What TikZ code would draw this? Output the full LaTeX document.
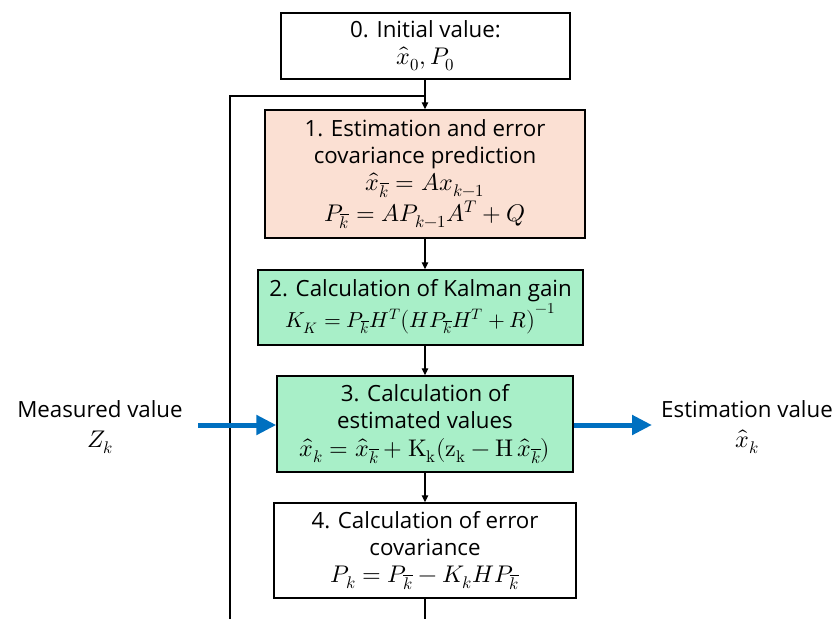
\documentclass[tikz,border=0pt]{standalone}
\usepackage{fontspec}
\usepackage{unicode-math}
\usepackage{graphicx}
\setmainfont{Open Sans}
\setmathfont{Latin Modern Math}[Scale=1.08]
\usetikzlibrary{arrows.meta}
\definecolor{peach}{HTML}{FBE0D3}
\definecolor{mint}{HTML}{A8EFC8}
\definecolor{arrowblue}{HTML}{0070C0}
\tikzset{
  stepbox/.style={draw=black, line width=1.4pt, align=center, inner sep=0pt,
    font=\fontsize{22.3}{27}\selectfont},
  flow/.style={line width=1.3pt, -{Triangle[length=7pt,width=6.5pt]}},
  loopline/.style={line width=1.3pt},
  bluearrow/.style={draw=arrowblue, line width=5pt, -{Triangle[length=20pt,width=19pt]}},
  sidetext/.style={align=center, font=\fontsize{22.3}{30}\selectfont},
}
\begin{document}
\begin{tikzpicture}[x=1pt,y=-1pt]
\useasboundingbox (0,0) rectangle (835,619);
\node[stepbox, minimum width=289pt, minimum height=66pt] (b0) at (425.5,46)
  {0. Initial value:\\ $\hat{x}_0, P_0$};
\node[stepbox, fill=peach, minimum width=320pt, minimum height=128pt] (b1) at (425,174)
  {1. Estimation and error\\ covariance prediction\\
   $\hat{x}_{\overline{k}} = A x_{k-1}$\\[3pt]
   $P_{\overline{k}} = A P_{k-1} A^T + Q$};
\node[stepbox, fill=mint, minimum width=325pt, minimum height=75pt] (b2) at (420.5,307.5)
  {2. Calculation of Kalman gain\\
   \scalebox{0.9}{$K_K = P_{\overline{k}} H^T \bigl(H P_{\overline{k}} H^T + R\bigr)^{-1}$}};
\node[stepbox, fill=mint, minimum width=296pt, minimum height=96pt] (b3) at (425,424)
  {3. Calculation of\\ estimated values\\[1pt]
   $\hat{x}_k = \hat{x}_{\overline{k}} + \symup{K}_{\symup{k}}(\symup{z}_{\symup{k}} - \symup{H}\,\hat{x}_{\overline{k}})$};
\node[stepbox, minimum width=302pt, minimum height=95pt] (b4) at (425,550.5)
  {4. Calculation of error\\ covariance\\
   $P_k = P_{\overline{k}} - K_k H P_{\overline{k}}$};
\node[sidetext] (meas) at (100,427) {Measured value\\ $Z_k$};
\node[sidetext] (est) at (747,427) {Estimation value\\ $\hat{x}_k$};

\coordinate (join) at (425,96);
\coordinate (bottomR) at (425,619);
\coordinate (bottomL) at (230,619);
\coordinate (cornerL) at (230,96);
\coordinate (inL) at (198,425);
\coordinate (outR) at (652,425);

\draw[flow] (b0.south -| join) -- (b1.north -| join);
\draw[flow] (b1.south -| join) -- (b2.north -| join);
\draw[flow] (b2.south -| join) -- (b3.north -| join);
\draw[flow] (b3.south -| join) -- (b4.north -| join);
\draw[loopline] (b4.south -| join) -- (bottomR);
\draw[loopline] (bottomL) -- (cornerL) -- (join);
\draw[bluearrow] (inL) -- (b3.west |- inL);
\draw[bluearrow] (b3.east |- outR) -- (outR);
\end{tikzpicture}
\end{document}
